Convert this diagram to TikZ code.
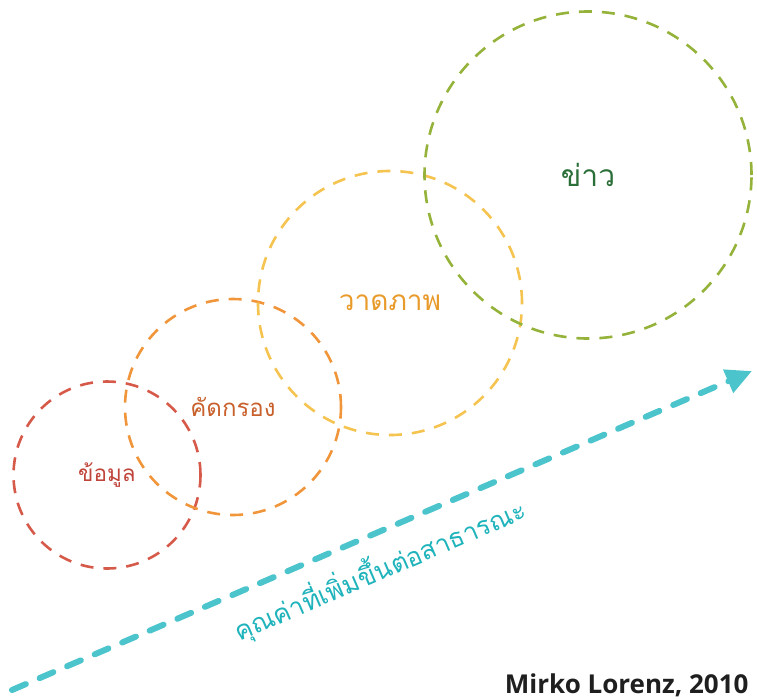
\documentclass[tikz,border=0pt]{standalone}
\usepackage{fontspec}
\setsansfont{Open Sans}
\newfontfamily\thaifont[Script=Thai]{Loma}
\usetikzlibrary{arrows.meta}

\definecolor{redline}{HTML}{D65A4A}
\definecolor{redtext}{HTML}{C0443A}
\definecolor{orangeline}{HTML}{F0953A}
\definecolor{orangetext}{HTML}{C8602C}
\definecolor{yellowline}{HTML}{F5C450}
\definecolor{yellowtext}{HTML}{E89A2A}
\definecolor{greenline}{HTML}{95B33A}
\definecolor{greentext}{HTML}{2A6E38}
\definecolor{tealline}{HTML}{4CC4CC}
\definecolor{tealtext}{HTML}{1FB3BB}

\begin{document}
\begin{tikzpicture}[x=1pt, y=-1pt]
	\useasboundingbox (0,0) rectangle (757,699);

	\begin{scope}[every node/.style={circle, draw, line width=2.6pt, dash pattern=on 13pt off 10pt, inner sep=0pt}]
		\node[minimum size=187pt, draw=redline, text=redtext, font=\thaifont\fontsize{22.5}{26}\selectfont] (data) at (107,475) {ข้อมูล};
		\node[minimum size=216pt, draw=orangeline, text=orangetext, font=\thaifont\fontsize{24}{28}\selectfont] (filter) at (233,407) {คัดกรอง};
		\node[minimum size=264pt, draw=yellowline, text=yellowtext, font=\thaifont\fontsize{28}{32}\selectfont] (visual) at (390,303) {วาดภาพ};
		\node[minimum size=327pt, draw=greenline, text=greentext, font=\thaifont\fontsize{30}{34}\selectfont] (news) at (588,175) {ข่าว};
	\end{scope}

	\coordinate (low) at (12,690);
	\coordinate (high) at (752,371);
	\draw[tealline, line width=6pt, line cap=round, dash pattern=on 15pt off 15pt, -{Triangle[length=26pt, width=24pt]}] (low) -- (high);

	\node[rotate=23.3, text=tealtext, font=\thaifont\fontsize{26}{30}\selectfont] (value) at (380,570) {คุณค่าที่เพิ่มขึ้นต่อสาธารณะ};
	\node[anchor=base east, font=\sffamily\bfseries\fontsize{26}{30}\selectfont, text=black!88] (credit) at (752,693) {Mirko Lorenz, 2010};
\end{tikzpicture}
\end{document}
